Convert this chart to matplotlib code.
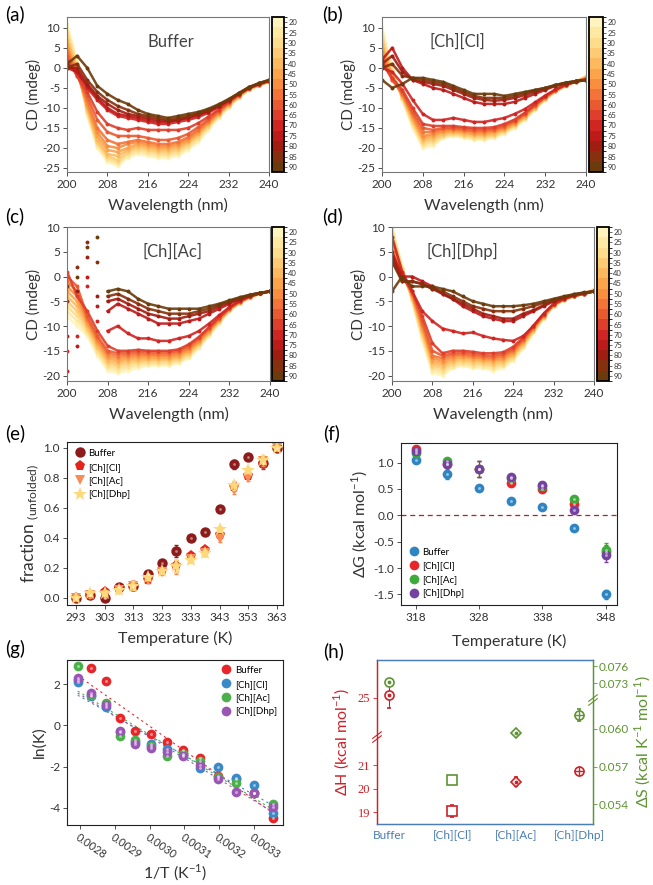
import numpy as np
import matplotlib
matplotlib.use('Agg')
import matplotlib.pyplot as plt
from matplotlib.colors import ListedColormap, BoundaryNorm
from matplotlib.cm import ScalarMappable

plt.rcParams['font.family'] = ['Lato', 'DejaVu Sans']
plt.rcParams['mathtext.fontset'] = 'custom'
plt.rcParams['mathtext.rm'] = 'Lato'
plt.rcParams['axes.unicode_minus'] = False

# ---------------- data ----------------
wavelengths = [200, 202, 204, 206, 208, 210, 212, 214, 216, 218, 220,
               222, 224, 226, 228, 230, 232, 234, 236, 238, 240]
cd_temps = [20, 25, 30, 35, 40, 45, 50, 55, 60, 65, 70, 75, 80, 85, 90]
cd_colors = ['#FFF4BE', '#FEE9A3', '#FDDC8B', '#FDCB73', '#FCB95E', '#FBA44A', '#F88E3E',
             '#F37338', '#EA5A31', '#DE3E2A', '#D02522', '#BD1A1A', '#A11D12', '#86300D', '#6B3B0B']

cd_buffer = [
    [11, 2, -12, -20, -23.5, -24.5, -22.5, -21.5, -22, -22.5, -22.5, -22, -20.5, -18.5, -15.5, -12.5, -10, -7.5, -5.5, -4.5, -3.5],
    [10, 1, -11.5, -19.5, -23, -24, -22, -21, -21.5, -22, -22, -21.5, -20, -18, -15, -12.3, -9.8, -7.4, -5.5, -4.4, -3.5],
    [9, 0.5, -11, -19, -22.5, -23.5, -21.5, -20.5, -21, -21.5, -21.5, -21, -19.5, -17.5, -14.7, -12, -9.6, -7.3, -5.4, -4.4, -3.5],
    [8, 0, -10.5, -18.5, -22, -23, -21, -20, -20.5, -21, -21, -20.5, -19, -17, -14.4, -11.8, -9.4, -7.2, -5.3, -4.3, -3.4],
    [7, -0.5, -10, -18, -21.5, -22, -20.5, -19.5, -20, -20.5, -20.5, -20, -18.6, -16.6, -14.1, -11.6, -9.2, -7.1, -5.3, -4.3, -3.4],
    [6, -1, -9.5, -17, -20.5, -21, -20, -19, -19.5, -20, -20, -19.5, -18.2, -16.2, -13.8, -11.4, -9.0, -7.0, -5.2, -4.2, -3.4],
    [5, -1, -9, -16, -19.5, -20, -19, -18.5, -19, -19.5, -19.5, -19, -17.8, -15.8, -13.5, -11.2, -8.9, -6.9, -5.2, -4.2, -3.4],
    [4, -1.5, -8, -15, -18, -19, -18.5, -18, -18.5, -19, -19, -18.5, -17.3, -15.4, -13.2, -11, -8.8, -6.8, -5.1, -4.2, -3.3],
    [3, -2, -7, -13, -16, -17, -17, -17, -17.5, -18, -18, -17.5, -16.5, -14.8, -12.8, -10.7, -8.6, -6.7, -5.1, -4.1, -3.3],
    [2, -2, -6, -11, -14, -15, -15.5, -15, -15.5, -15.5, -15.5, -15.5, -15, -13.8, -12.2, -10.4, -8.5, -6.7, -5.1, -4.1, -3.3],
    [1, -1, -5, -8, -10.5, -12, -12.5, -13, -13.5, -14, -14, -13.5, -13, -12.3, -11.2, -9.8, -8.2, -6.5, -5.0, -4.0, -3.2],
    [0, -1, -4.5, -7.5, -10, -11.5, -12, -12.5, -13, -13.5, -13.5, -13, -12.5, -11.8, -10.9, -9.6, -8.1, -6.5, -5.0, -4.0, -3.2],
    [0, 0, -4, -7, -9, -10.5, -11.5, -12, -12.5, -13, -13.3, -13, -12.3, -11.6, -10.7, -9.5, -8.0, -6.4, -4.9, -3.9, -3.1],
    [0, 1, -3, -6, -8, -9.5, -10.5, -11.5, -12, -12.5, -13, -12.5, -12, -11.3, -10.5, -9.3, -7.9, -6.4, -4.9, -3.9, -3.1],
    [1, 3, 0, -4.5, -6.5, -8, -9, -10.5, -11.5, -12, -12.5, -12, -11.5, -11, -10.2, -9.1, -7.8, -6.3, -4.8, -3.8, -3.0],
]
cd_cl = [
    [10, 0, -8, -15, -20, -19.5, -17.5, -17, -17.5, -18, -18, -17.5, -16.5, -15, -13, -10.5, -8, -6, -4.5, -3.5, -2],
    [9, -0.5, -8, -14.5, -19.5, -19, -17.3, -16.8, -17.2, -17.7, -17.7, -17.2, -16.2, -14.8, -12.8, -10.3, -7.9, -5.9, -4.5, -3.5, -2.1],
    [8, -1, -7.5, -14, -19, -18.5, -17, -16.5, -17, -17.4, -17.4, -17, -16, -14.5, -12.6, -10.2, -7.8, -5.9, -4.5, -3.5, -2.2],
    [7, -1.5, -7.5, -13.5, -18.5, -18, -16.7, -16.3, -16.7, -17.1, -17.1, -16.7, -15.7, -14.3, -12.4, -10, -7.7, -5.8, -4.4, -3.4, -2.3],
    [6, -2, -7, -13, -18, -17.5, -16.4, -16, -16.4, -16.8, -16.8, -16.4, -15.5, -14.1, -12.2, -9.9, -7.6, -5.8, -4.4, -3.4, -2.4],
    [5, -2, -7, -12.5, -17.5, -17, -16, -15.8, -16.1, -16.5, -16.5, -16.1, -15.2, -13.9, -12, -9.7, -7.5, -5.7, -4.4, -3.4, -2.5],
    [4, -2.5, -6.5, -12, -17, -16.5, -15.7, -15.5, -15.8, -16.2, -16.2, -15.8, -15, -13.7, -11.8, -9.6, -7.4, -5.6, -4.3, -3.4, -2.6],
    [3, -3, -6.5, -11.5, -16, -16, -15.3, -15.2, -15.5, -15.8, -15.8, -15.5, -14.7, -13.4, -11.6, -9.4, -7.3, -5.6, -4.3, -3.4, -2.7],
    [2, -3, -6, -11, -15, -15.5, -15, -15, -15.2, -15.5, -15.5, -15.2, -14.4, -13.2, -11.4, -9.3, -7.2, -5.5, -4.3, -3.4, -2.8],
    [1, -2.5, -5.5, -10, -14, -14.5, -14.5, -14.5, -14.8, -15, -15, -14.8, -14, -12.9, -11.2, -9.1, -7.1, -5.5, -4.2, -3.4, -2.9],
    [0, -1, -4, -8, -11.5, -13, -13, -12.5, -13, -13.5, -13.5, -13, -12.5, -11.5, -10.3, -8.6, -6.9, -5.4, -4.2, -3.4, -3],
    [2, 5, 0, -3, -4, -5, -5.5, -6.5, -7.5, -8.5, -9, -9, -9, -8.5, -7.5, -6.5, -5.5, -4.5, -4, -3.5, -3],
    [1, 3, -1, -3, -3.5, -4, -4.5, -5.5, -6.5, -7.5, -8, -8.2, -8, -7.5, -6.8, -6, -5.2, -4.4, -3.8, -3.4, -3],
    [0, 1, -2, -2.5, -3, -3.5, -4, -5, -6, -7, -7.5, -7.5, -7.5, -7, -6.3, -5.6, -5, -4.3, -3.7, -3.3, -3],
    [-3, -5, -4, -2.5, -2.5, -3, -3.5, -4.5, -5.5, -6.5, -6.5, -6.5, -7, -6.5, -6, -5.5, -5, -4.3, -3.7, -3.3, -3],
]
cd_ac = [
    [-8, -10, -12, -16, -19, -19.5, -19, -18.5, -18, -18, -18, -17.5, -16.5, -14.5, -12, -9.5, -7, -5.5, -4.3, -3.5, -3],
    [-7, -9, -11.5, -15.5, -18.5, -19, -18.5, -18, -17.7, -17.7, -17.7, -17.2, -16.2, -14.2, -11.8, -9.3, -6.9, -5.4, -4.3, -3.5, -3],
    [-6, -8, -11, -15, -18, -18.5, -18, -17.6, -17.4, -17.4, -17.4, -16.9, -15.9, -13.9, -11.6, -9.2, -6.8, -5.3, -4.2, -3.5, -3],
    [-5, -7, -10.5, -14.5, -17.5, -18, -17.5, -17.2, -17, -17, -17, -16.6, -15.6, -13.7, -11.4, -9, -6.8, -5.3, -4.2, -3.4, -3],
    [-4, -6, -10, -14, -17, -17.5, -17, -16.8, -16.7, -16.7, -16.7, -16.3, -15.3, -13.5, -11.2, -8.9, -6.7, -5.2, -4.2, -3.4, -3],
    [-3, -5, -9.5, -13.5, -16.5, -17, -16.6, -16.4, -16.4, -16.4, -16.4, -16, -15, -13.2, -11, -8.8, -6.6, -5.2, -4.1, -3.4, -3],
    [-2, -4, -9, -13, -16, -16.5, -16.2, -16, -16, -16, -16, -15.7, -14.7, -13, -10.8, -8.6, -6.5, -5.1, -4.1, -3.4, -3],
    [-1, -3, -8.5, -12.5, -15.5, -16, -15.8, -15.6, -15.7, -15.7, -15.7, -15.3, -14.4, -12.7, -10.6, -8.5, -6.5, -5.1, -4.1, -3.4, -3],
    [0, -2, -8, -12, -15, -15.5, -15.4, -15.2, -15.3, -15.3, -15.3, -15, -14, -12.4, -10.4, -8.3, -6.4, -5, -4, -3.4, -3],
    [1, -4, -7, -11, -14, -15, -15, -14.8, -15, -15, -15, -14.7, -13.7, -12.2, -10.2, -8.2, -6.3, -5, -4, -3.4, -3],
    [-15, -12, -2, -9, -11, -10, -11.5, -12.5, -12.5, -13, -13, -12.5, -12, -11, -9.5, -7.8, -6.2, -4.9, -4, -3.4, -3],
    [-19, -14, 0, -6, -7, -5.5, -6.5, -7.5, -8.5, -9.5, -9.5, -9.5, -9, -8.5, -7.5, -6.5, -5.5, -4.6, -3.9, -3.4, -3],
    [-12, -3, 4, -4, -5, -4.5, -5.5, -6.5, -7.5, -8, -8.5, -8.5, -8, -7.5, -7, -6, -5.2, -4.5, -3.8, -3.3, -3],
    [-5, 2, 7, 3, -4, -3.5, -4.5, -5.5, -6.5, -7, -7.5, -7.5, -7.5, -7, -6.5, -5.7, -5, -4.3, -3.7, -3.3, -3],
    [-2, 0, 6, 8, -3, -2.5, -3, -4.5, -5.5, -6, -6.5, -6.5, -6.5, -6.5, -6, -5.5, -4.8, -4.2, -3.7, -3.3, -3],
]
cd_dhp = [
    [10, 2, -5, -13, -19.5, -20, -18.5, -18, -18.5, -18.5, -19, -18.5, -17, -14.5, -11.5, -8.5, -6, -4.8, -4, -3.5, -2.5],
    [9.5, 2, -5, -12.5, -19, -19.5, -18.2, -17.7, -18.2, -18.2, -18.6, -18.1, -16.7, -14.3, -11.3, -8.4, -6, -4.8, -4, -3.5, -2.6],
    [9, 1.5, -4.5, -12, -18.5, -19, -17.8, -17.4, -17.8, -17.8, -18.2, -17.8, -16.4, -14, -11.1, -8.3, -5.9, -4.7, -4, -3.5, -2.7],
    [8.5, 1.5, -4.5, -11.5, -18, -18.5, -17.4, -17, -17.4, -17.5, -17.8, -17.4, -16.1, -13.8, -11, -8.2, -5.9, -4.7, -4, -3.5, -2.8],
    [8, 1, -4, -11, -17.5, -18, -17, -16.6, -17, -17.1, -17.4, -17, -15.8, -13.5, -10.8, -8.1, -5.8, -4.7, -3.9, -3.5, -2.8],
    [7, 1, -4, -10.5, -17, -17.5, -16.6, -16.3, -16.6, -16.8, -17, -16.7, -15.5, -13.3, -10.6, -8, -5.8, -4.6, -3.9, -3.5, -2.9],
    [6, 0.5, -3.5, -10, -16.5, -17, -16.2, -16, -16.3, -16.5, -16.7, -16.4, -15.2, -13, -10.4, -7.9, -5.7, -4.6, -3.9, -3.5, -2.9],
    [5, 0.5, -3.5, -9.5, -16, -16.5, -15.8, -15.7, -16, -16.2, -16.4, -16, -14.9, -12.8, -10.3, -7.8, -5.7, -4.6, -3.9, -3.5, -3],
    [4, 0, -3, -9, -15, -16, -15.5, -15.4, -15.6, -15.9, -16, -15.7, -14.6, -12.6, -10.1, -7.7, -5.6, -4.5, -3.9, -3.5, -3],
    [3, 0, -3, -8, -13.5, -15.5, -15, -15, -15.2, -15.5, -15.5, -15.3, -14.2, -12.3, -9.9, -7.6, -5.6, -4.5, -3.9, -3.5, -3],
    [8, 1, -3, -7, -9, -10.5, -11, -11.5, -11.3, -12, -12.5, -12.8, -13, -12, -10, -7.5, -5.5, -4.5, -3.8, -3.4, -3],
    [5, 0, 0, -1, -2, -3.5, -4.5, -6, -7, -8, -8.5, -9, -9, -8, -7, -6, -5, -4.3, -3.7, -3.3, -3],
    [4, -1, -1, -1.5, -2.5, -3.5, -4.5, -5.5, -6.5, -7.5, -8, -8.5, -8.5, -7.5, -6.8, -5.8, -4.9, -4.2, -3.7, -3.3, -3],
    [3, -1, -1, -1.5, -2.5, -3, -4, -5, -6, -6.5, -7, -7, -7, -6.5, -6, -5.3, -4.7, -4.1, -3.6, -3.3, -3],
    [-3, 0, -2, -2, -2, -2.5, -3, -4, -5, -5.5, -6, -6, -6, -5.8, -5.5, -5, -4.5, -4, -3.6, -3.2, -3],
]

# (e) unfolded fraction
temps_e = [293, 298, 303, 308, 313, 318, 323, 328, 333, 338, 343, 348, 353, 358, 363]
frac_buffer = [0.00, 0.02, 0.00, 0.07, 0.08, 0.16, 0.23, 0.31, 0.40, 0.44, 0.59, 0.89, 0.94, 0.90, 1.00]
frac_cl = [0.00, 0.02, 0.04, 0.06, 0.08, 0.12, 0.18, 0.21, 0.28, 0.32, 0.42, 0.74, 0.81, 0.89, 1.00]
frac_ac = [0.00, 0.02, 0.02, 0.05, 0.08, 0.12, 0.17, 0.20, 0.26, 0.30, 0.39, 0.72, 0.80, 0.91, 1.00]
frac_dhp = [0.00, 0.03, 0.03, 0.05, 0.08, 0.14, 0.18, 0.21, 0.25, 0.30, 0.46, 0.75, 0.85, 0.92, 1.00]
frac_err = [0.01, 0.02, 0.02, 0.02, 0.03, 0.02, 0.02, 0.04, 0.02, 0.02, 0.02, 0.03, 0.02, 0.03, 0.01]

# (f) delta G
temps_f = [318, 323, 328, 333, 338, 343, 348]
dg_buffer = [1.05, 0.78, 0.52, 0.28, 0.15, -0.25, -1.50]
dg_cl = [1.26, 0.98, 0.88, 0.62, 0.50, 0.22, -0.70]
dg_ac = [1.18, 1.02, 0.88, 0.70, 0.55, 0.30, -0.65]
dg_dhp = [1.22, 0.97, 0.87, 0.72, 0.57, 0.10, -0.75]
dg_err_buffer = [0.05, 0.10, 0.04, 0.03, 0.04, 0.03, 0.08]
dg_err_il = [0.05, 0.05, 0.15, 0.05, 0.05, 0.05, 0.13]

# (g) van't Hoff
temps_g = [358, 353, 348, 343, 338, 333, 328, 323, 318, 313, 308, 303, 298]
lnk_buffer = [2.2, 2.8, 2.15, 0.35, -0.25, -0.4, -0.8, -1.2, -1.6, -2.45, -2.6, -3.3, -4.5]
lnk_cl = [2.1, 1.45, 0.9, -0.3, -0.8, -0.9, -1.15, -1.45, -2.05, -2.0, -2.55, -2.9, -4.25]
lnk_ac = [2.9, 1.5, 1.1, -0.5, -0.7, -1.0, -1.5, -1.4, -1.75, -2.5, -2.8, -3.3, -3.8]
lnk_dhp = [2.3, 1.6, 1.0, -0.25, -0.9, -1.1, -1.3, -1.5, -1.9, -2.6, -3.25, -3.3, -3.95]

# (h) thermodynamic parameters
systems = ['Buffer', '[Ch][Cl]', '[Ch][Ac]', '[Ch][Dhp]']
dH = [25.1, 19.05, 20.3, 20.75]
dH_err = [0.55, 0.25, 0.2, 0.12]
dS = [0.0733, 0.0559, 0.0597, 0.0611]
dS_err = [0.0003, 0.0003, 0.0002, 0.0005]

# ---------------- figure ----------------
W, H = 653, 885
fig = plt.figure(figsize=(W / 100, H / 100), dpi=100)


def axes_px(l, t, r, b):
    return fig.add_axes([l / W, 1 - b / H, (r - l) / W, (b - t) / H])


def style(ax, col='#444444'):
    for s in ax.spines.values():
        s.set_color(col)
        s.set_linewidth(0.8)
    ax.tick_params(direction='out', length=3, width=0.6, colors='#333333', labelsize=8.5, pad=2)


def label(x, y, s):
    fig.text(x / W, 1 - y / H, s, fontsize=13.5, ha='left', va='center')


def sphere(ax, x, y, color, ms=7, zorder=3, lab=None):
    ax.plot(x, y, 'o', color=color, ms=ms, mew=0, zorder=zorder, label=lab)
    ax.plot(x, y, 'o', color='white', alpha=0.5, ms=ms * 0.3, mew=0, zorder=zorder + 0.1)


cd_cmap = ListedColormap(cd_colors)
cd_norm = BoundaryNorm(np.arange(17.5, 95, 5), cd_cmap.N)


def cd_panel(box, cbox, curves, ylim, yticks, name, name_x, noisy=()):
    ax = axes_px(*box)
    for i, (y, c) in enumerate(zip(curves, cd_colors)):
        start = 4 if i in noisy else 0
        ax.plot(wavelengths[start:], y[start:], '-', color=c, lw=1.8, alpha=0.9)
        ax.plot(wavelengths, y, 'o', color=c, ms=2.8, mew=0)
    ax.set_xlim(200, 240)
    ax.set_ylim(*ylim)
    ax.set_xticks([200, 208, 216, 224, 232, 240])
    ax.set_yticks(yticks)
    style(ax, '#777777')
    ax.set_xlabel('Wavelength (nm)', fontsize=11.5, color='#333333', labelpad=6)
    ax.set_ylabel('CD (mdeg)', fontsize=11, color='#333333', labelpad=1)
    ax.text(name_x, 0.84, name, transform=ax.transAxes, fontsize=12, color='#444444',
            ha='center', va='center')
    cax = axes_px(*cbox)
    cb = fig.colorbar(ScalarMappable(norm=cd_norm, cmap=cd_cmap), cax=cax, ticks=cd_temps)
    cax.invert_yaxis()
    cb.outline.set_linewidth(1.3)
    cax.tick_params(labelsize=5.5, length=2, width=0.5, pad=1, colors='#333333')
    return ax


cd_panel((67, 17, 269, 172), (272, 17, 284, 172), cd_buffer, (-26, 12.7),
         [-25, -20, -15, -10, -5, 0, 5, 10], 'Buffer', 0.515)
cd_panel((382, 17, 586, 172), (589, 17, 603, 172), cd_cl, (-26, 12.7),
         [-25, -20, -15, -10, -5, 0, 5, 10], '[Ch][Cl]', 0.37)
cd_panel((67, 227, 270, 381), (272, 227, 284, 381), cd_ac, (-21.1, 10),
         [-20, -15, -10, -5, 0, 5, 10], '[Ch][Ac]', 0.52, noisy=(10, 11, 12, 13, 14))
cd_panel((392, 227, 594, 381), (597, 227, 609, 381), cd_dhp, (-21.1, 10),
         [-20, -15, -10, -5, 0, 5, 10], '[Ch][Dhp]', 0.35)

# (e)
ax = axes_px(67, 442, 283, 605)
e_series = [(frac_buffer, '#8E1B1B', 'o', 7.5, 'Buffer'),
            (frac_cl, '#E3241B', 'p', 8, '[Ch][Cl]'),
            (frac_ac, '#F98B55', 'v', 7.5, '[Ch][Ac]'),
            (frac_dhp, '#FDD97C', '*', 10, '[Ch][Dhp]')]
for vals, c, m, ms, lab in e_series:
    ax.errorbar(temps_e, vals, yerr=frac_err, fmt='none', ecolor=c, elinewidth=0.8, capsize=1.2)
    ax.plot(temps_e, vals, m, color=c, ms=ms, mew=0, label=lab)
ax.plot(temps_e, frac_buffer, 'o', color='white', alpha=0.45, ms=2, mew=0)
ax.set_xlim(289.9, 365.1)
ax.set_ylim(-0.05, 1.04)
ax.set_xticks(range(293, 364, 10))
ax.set_yticks([0, 0.2, 0.4, 0.6, 0.8, 1.0])
ax.set_yticklabels(['0.0', '0.2', '0.4', '0.6', '0.8', '1.0'])
style(ax, '#222222')
ax.legend(loc='upper left', frameon=False, fontsize=7, handletextpad=0.3,
          labelspacing=0.5, borderaxespad=0.3, handlelength=1.2)
ax.set_xlabel('Temperature (K)', fontsize=11.5, color='#333333', labelpad=6)
ax.set_ylabel('fraction $_{\\mathrm{(unfolded)}}$', fontsize=12.5, color='#333333', labelpad=2)

# (f)
ax = axes_px(401, 443, 617, 605)
f_series = [(dg_buffer, dg_err_buffer, '#2F84C2', 'Buffer'),
            (dg_cl, dg_err_il, '#E8262A', '[Ch][Cl]'),
            (dg_ac, dg_err_il, '#3DAA3A', '[Ch][Ac]'),
            (dg_dhp, dg_err_il, '#7443A0', '[Ch][Dhp]')]
ax.axhline(0, color='#B22222', lw=0.9, ls=(0, (4, 3)), zorder=1)
for vals, err, c, lab in f_series:
    ax.errorbar(temps_f, vals, yerr=err, fmt='none', ecolor=c, elinewidth=0.8, capsize=1.2)
    sphere(ax, temps_f, vals, c, ms=7, lab=lab)
ax.set_xlim(315.7, 349.8)
ax.set_ylim(-1.70, 1.37)
ax.set_xticks([318, 328, 338, 348])
ax.set_yticks([-1.5, -1.0, -0.5, 0.0, 0.5, 1.0])
style(ax, '#222222')
ax.legend(loc='lower left', frameon=False, fontsize=7, handletextpad=0.3,
          labelspacing=0.5, borderaxespad=0.3, handlelength=1.2)
ax.set_xlabel('Temperature (K)', fontsize=11.5, color='#333333', labelpad=8)
ax.set_ylabel('ΔG (kcal mol$^{-1}$)', fontsize=11.5, color='#333333', labelpad=2)

# (g)
ax = axes_px(67, 660, 283, 825)
inv_t = 1.0 / np.array(temps_g, dtype=float)
g_series = [(lnk_buffer, '#E8262A', 'Buffer'),
            (lnk_cl, '#3A8AC8', '[Ch][Cl]'),
            (lnk_ac, '#4CB04A', '[Ch][Ac]'),
            (lnk_dhp, '#9A55B5', '[Ch][Dhp]')]
for vals, c, lab in g_series:
    k, b0 = np.polyfit(inv_t, vals, 1)
    xx = np.array([inv_t.min(), inv_t.max()])
    ax.plot(xx, k * xx + b0, ls=(0, (2, 3)), color=c, lw=0.8, zorder=1)
for vals, c, lab in g_series:
    sphere(ax, inv_t, vals, c, ms=7, lab=lab)
ax.set_xlim(0.0027626, 0.003383)
ax.set_ylim(-4.84, 3.18)
ax.set_xticks([0.0028, 0.0029, 0.0030, 0.0031, 0.0032, 0.0033])
style(ax, '#222222')
ax.set_xticklabels(['0.0028', '0.0029', '0.0030', '0.0031', '0.0032', '0.0033'],
                   rotation=-35, ha='left', va='top', rotation_mode='anchor', fontsize=8)
ax.set_yticks([-4, -2, 0, 2])
ax.legend(loc='upper right', frameon=False, fontsize=7, handletextpad=0.3,
          labelspacing=0.5, borderaxespad=0.2, handlelength=1.2)
ax.set_xlabel('1/T (K$^{-1}$)', fontsize=11.5, color='#333333', labelpad=1)
ax.set_ylabel('ln(K)', fontsize=11.5, color='#333333', labelpad=2)

# (h) broken axes via piecewise scales
hb_lo, hb_hi = 22.2, 23.35


def h_fwd(v):
    v = np.asarray(v, dtype=float)
    return np.where(v <= hb_lo, v - hb_lo, np.where(v >= hb_hi, v - hb_hi, 0.0))


def h_inv(u):
    u = np.asarray(u, dtype=float)
    return np.where(u <= 0, u + hb_lo, u + hb_hi)


sb_lo, sb_hi = 0.06297, 0.07157


def s_fwd(v):
    v = np.asarray(v, dtype=float)
    return np.where(v <= sb_lo, (v - sb_lo) * 11767, np.where(v >= sb_hi, (v - sb_hi) * 5333, 0.0))


def s_inv(u):
    u = np.asarray(u, dtype=float)
    return np.where(u <= 0, sb_lo + u / 11767, sb_hi + u / 5333)


red_h, green_h, blue_h = '#CC2229', '#5E9432', '#4A7DB3'
ax = axes_px(377, 660, 593, 824)
ax2 = ax.twinx()
ax.set_yscale('function', functions=(h_fwd, h_inv))
ax2.set_yscale('function', functions=(s_fwd, s_inv))
xpos = np.arange(len(systems))
h_marks = ['o', 's', 'D', 'o']
h_inner = ['.', None, '.', '+']
for a, vals, errs, c in ((ax, dH, dH_err, red_h), (ax2, dS, dS_err, green_h)):
    for i in range(len(systems)):
        a.errorbar(xpos[i], vals[i], yerr=errs[i], fmt=h_marks[i], mfc='white', mec=c,
                   ecolor=c, ms=6.5 if h_marks[i] != 'D' else 5.5, mew=1.2,
                   elinewidth=0.8, capsize=1.5, zorder=3)
        if h_inner[i]:
            a.plot(xpos[i], vals[i], h_inner[i], color=c, mew=1, zorder=5,
                   ms=3.5 if h_inner[i] == '.' else 6.5)
ax.set_xlim(-0.19, 3.22)
ax.set_ylim(18.5, 26.6)
ax2.set_ylim(0.05244, 0.07707)
ax.set_yticks([19, 20, 21, 25])
ax.set_yticklabels(['19', '20', '21', '25'], family='Liberation Serif', fontsize=9)
ax2.set_yticks([0.054, 0.057, 0.060, 0.073, 0.076])
ax2.set_yticklabels(['0.054', '0.057', '0.060', '0.073', '0.076'])
ax.yaxis.set_minor_locator(plt.NullLocator())
ax2.yaxis.set_minor_locator(plt.NullLocator())
ax.set_xticks(xpos)
ax.set_xticklabels(systems)
for a in (ax, ax2):
    a.spines['top'].set_color(blue_h)
    a.spines['bottom'].set_color(blue_h)
    a.spines['left'].set_color(red_h)
    a.spines['right'].set_color(green_h)
    for s in a.spines.values():
        s.set_linewidth(0.9)
ax.tick_params(axis='x', colors=blue_h, labelsize=8.5, length=0, pad=4)
ax.tick_params(axis='y', colors=red_h, labelsize=9, length=3, width=0.6, pad=2)
ax2.tick_params(axis='y', colors=green_h, labelsize=8.5, length=3, width=0.6, pad=1)
ax.set_ylabel('ΔH (kcal mol$^{-1}$)', fontsize=11.5, color=red_h, labelpad=4)
ax2.set_ylabel('ΔS (kcal K$^{-1}$ mol$^{-1}$)', fontsize=11.5, color=green_h, labelpad=3)
# break marks on the spines
for xa, ya, c in ((0.0, 0.53, red_h), (1.0, 0.756, green_h)):
    for dy in (-0.012, 0.012):
        ax.plot([xa - 0.02, xa + 0.02], [ya + dy - 0.02, ya + dy + 0.02], color=c, lw=0.8,
                transform=ax.transAxes, clip_on=False)

# panel letters
label(5, 14, '(a)')
label(322, 14, '(b)')
label(5, 216, '(c)')
label(322, 216, '(d)')
label(5, 433, '(e)')
label(323, 433, '(f)')
label(5, 649, '(g)')
label(323, 651, '(h)')

fig.savefig('out.png', dpi=100)
